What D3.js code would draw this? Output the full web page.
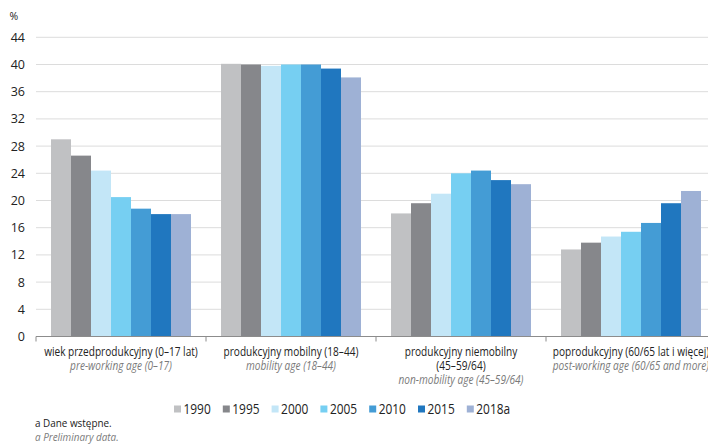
<!DOCTYPE html>
<html lang="pl">
<head>
<meta charset="UTF-8">
<title>Ludność według ekonomicznych grup wieku</title>
<script src="https://d3js.org/d3.v7.min.js"></script>
<style>
  body { margin: 0; background: #fff; }
  svg { display: block; font-family: "Open Sans", "Noto Sans", sans-serif; }
  .grid line { stroke: #dcdcdc; stroke-width: 1; }
  .tick-label { font-size: 12.5px; fill: #222; }
  .cat { font-size: 12px; fill: #222; }
  .cat-en { font-size: 12px; fill: #7a7a7a; font-style: italic; }
  .legend text { font-size: 14.5px; fill: #222; }
  .note { font-size: 11.5px; fill: #222; }
  .note-en { font-size: 11.5px; fill: #7a7a7a; font-style: italic; }
</style>
</head>
<body>
<svg width="708" height="444"></svg>
<script>
// data
const categories = ["pre", "mob", "nonmob", "post"];
const labelsPl = [
  ["wiek przedprodukcyjny (0–17 lat)"],
  ["produkcyjny mobilny (18–44)"],
  ["produkcyjny niemobilny", "(45–59/64)"],
  ["poprodukcyjny (60/65 lat i więcej)"]
];
const labelsEn = [
  "pre-working age (0–17)",
  "mobility age (18–44)",
  "non-mobility age (45–59/64)",
  "post-working age (60/65 and more)"
];
const years = ["1990", "1995", "2000", "2005", "2010", "2015", "2018a"];
const colors = ["#c0c1c3", "#86878b", "#c3e6f7", "#76cff2", "#449cd5", "#2077bf", "#9eb1d5"];

const v1990  = [29.0, 40.1, 18.1, 12.8];
const v1995  = [26.6, 40.0, 19.6, 13.8];
const v2000  = [24.4, 39.8, 21.0, 14.7];
const v2005  = [20.5, 40.0, 24.0, 15.4];
const v2010  = [18.8, 40.0, 24.4, 16.7];
const v2015  = [18.0, 39.4, 23.0, 19.6];
const v2018a = [18.0, 38.1, 22.4, 21.4];
const series = [v1990, v1995, v2000, v2005, v2010, v2015, v2018a];

const yTicks = [0, 4, 8, 12, 16, 20, 24, 28, 32, 36, 40, 44];

const svg = d3.select("svg");

// squeeze text horizontally, the original uses a narrow face
function condense(sel, k) {
    sel.each(function() {
        const len = this.getComputedTextLength();
        d3.select(this)
            .attr("textLength", len * k)
            .attr("lengthAdjust", "spacingAndGlyphs");
    });
}

// scales
const x0 = d3.scaleBand()
    .domain(categories)
    .range([36, 716])
    .paddingInner(0)
    .paddingOuter(0);

const x1 = d3.scaleBand()
    .domain(years)
    .range([0, x0.bandwidth()])
    .paddingInner(0)
    .paddingOuter(0.75);

const y = d3.scaleLinear()
    .domain([0, 44])
    .range([336.5, 37.3]);

// gridlines
svg.append("g")
    .attr("class", "grid")
    .selectAll("line")
    .data(yTicks.filter(d => d > 0))
  .enter().append("line")
    .attr("x1", 36)
    .attr("x2", 716)
    .attr("y1", d => y(d))
    .attr("y2", d => y(d));

// y labels
svg.append("g")
    .selectAll("text")
    .data(yTicks)
  .enter().append("text")
    .attr("class", "tick-label")
    .attr("x", 25)
    .attr("y", d => y(d))
    .attr("dy", "0.36em")
    .attr("text-anchor", "end")
    .text(d => d);

svg.append("text")
    .attr("x", 9.5)
    .attr("y", 20)
    .attr("font-size", 10.5)
    .attr("fill", "#222")
    .text("%");

// bars
const groups = svg.append("g")
    .selectAll("g")
    .data(categories)
  .enter().append("g")
    .attr("transform", d => `translate(${x0(d)},0)`);

groups.selectAll("rect")
    .data((d, i) => years.map((yr, j) => ({ yr, j, v: series[j][i] })))
  .enter().append("rect")
    .attr("x", d => x1(d.yr))
    .attr("width", x1.bandwidth())
    .attr("y", d => y(d.v))
    .attr("height", d => y(0) - y(d.v))
    .attr("fill", d => colors[d.j]);

// x axis: baseline with ticks at group boundaries
const xAxis = svg.append("g")
    .attr("transform", `translate(0,${y(0)})`);

xAxis.append("line")
    .attr("x1", 36)
    .attr("x2", 716)
    .attr("stroke", "#8c8c8c")
    .attr("stroke-width", 1);

xAxis.selectAll(".tk")
    .data(categories)
  .enter().append("line")
    .attr("class", "tk")
    .attr("x1", d => x0(d))
    .attr("x2", d => x0(d))
    .attr("y1", 0)
    .attr("y2", 5)
    .attr("stroke", "#8c8c8c");

// category labels
categories.forEach((c, i) => {
    const cx = x0(c) + x0.bandwidth() / 2;
    const lines = labelsPl[i];
    lines.forEach((t, k) => {
        svg.append("text")
            .attr("class", "cat")
            .attr("x", cx)
            .attr("y", 356 + k * 14)
            .attr("text-anchor", "middle")
            .text(t);
    });
    svg.append("text")
        .attr("class", "cat-en")
        .attr("x", cx)
        .attr("y", 356 + lines.length * 14)
        .attr("text-anchor", "middle")
        .text(labelsEn[i]);
});
condense(svg.selectAll(".cat, .cat-en"), 0.84);

// legend
const legend = svg.append("g")
    .attr("class", "legend")
    .attr("transform", "translate(174,409)");

const item = legend.selectAll("g")
    .data(years)
  .enter().append("g")
    .attr("transform", (d, i) => `translate(${i * 48.8},0)`);

item.append("rect")
    .attr("x", 0)
    .attr("y", -3.5)
    .attr("width", 7)
    .attr("height", 7)
    .attr("fill", (d, i) => colors[i]);

item.append("text")
    .attr("x", 9.5)
    .attr("y", 0)
    .attr("dy", "0.36em")
    .text(d => d);
condense(legend.selectAll("text"), 0.82);

// footnotes
svg.append("text")
    .attr("class", "note")
    .attr("x", 35)
    .attr("y", 427)
    .text("a Dane wstępne.");

svg.append("text")
    .attr("class", "note-en")
    .attr("x", 35)
    .attr("y", 441)
    .text("a Preliminary data.");
condense(svg.selectAll(".note, .note-en"), 0.86);
</script>
</body>
</html>
